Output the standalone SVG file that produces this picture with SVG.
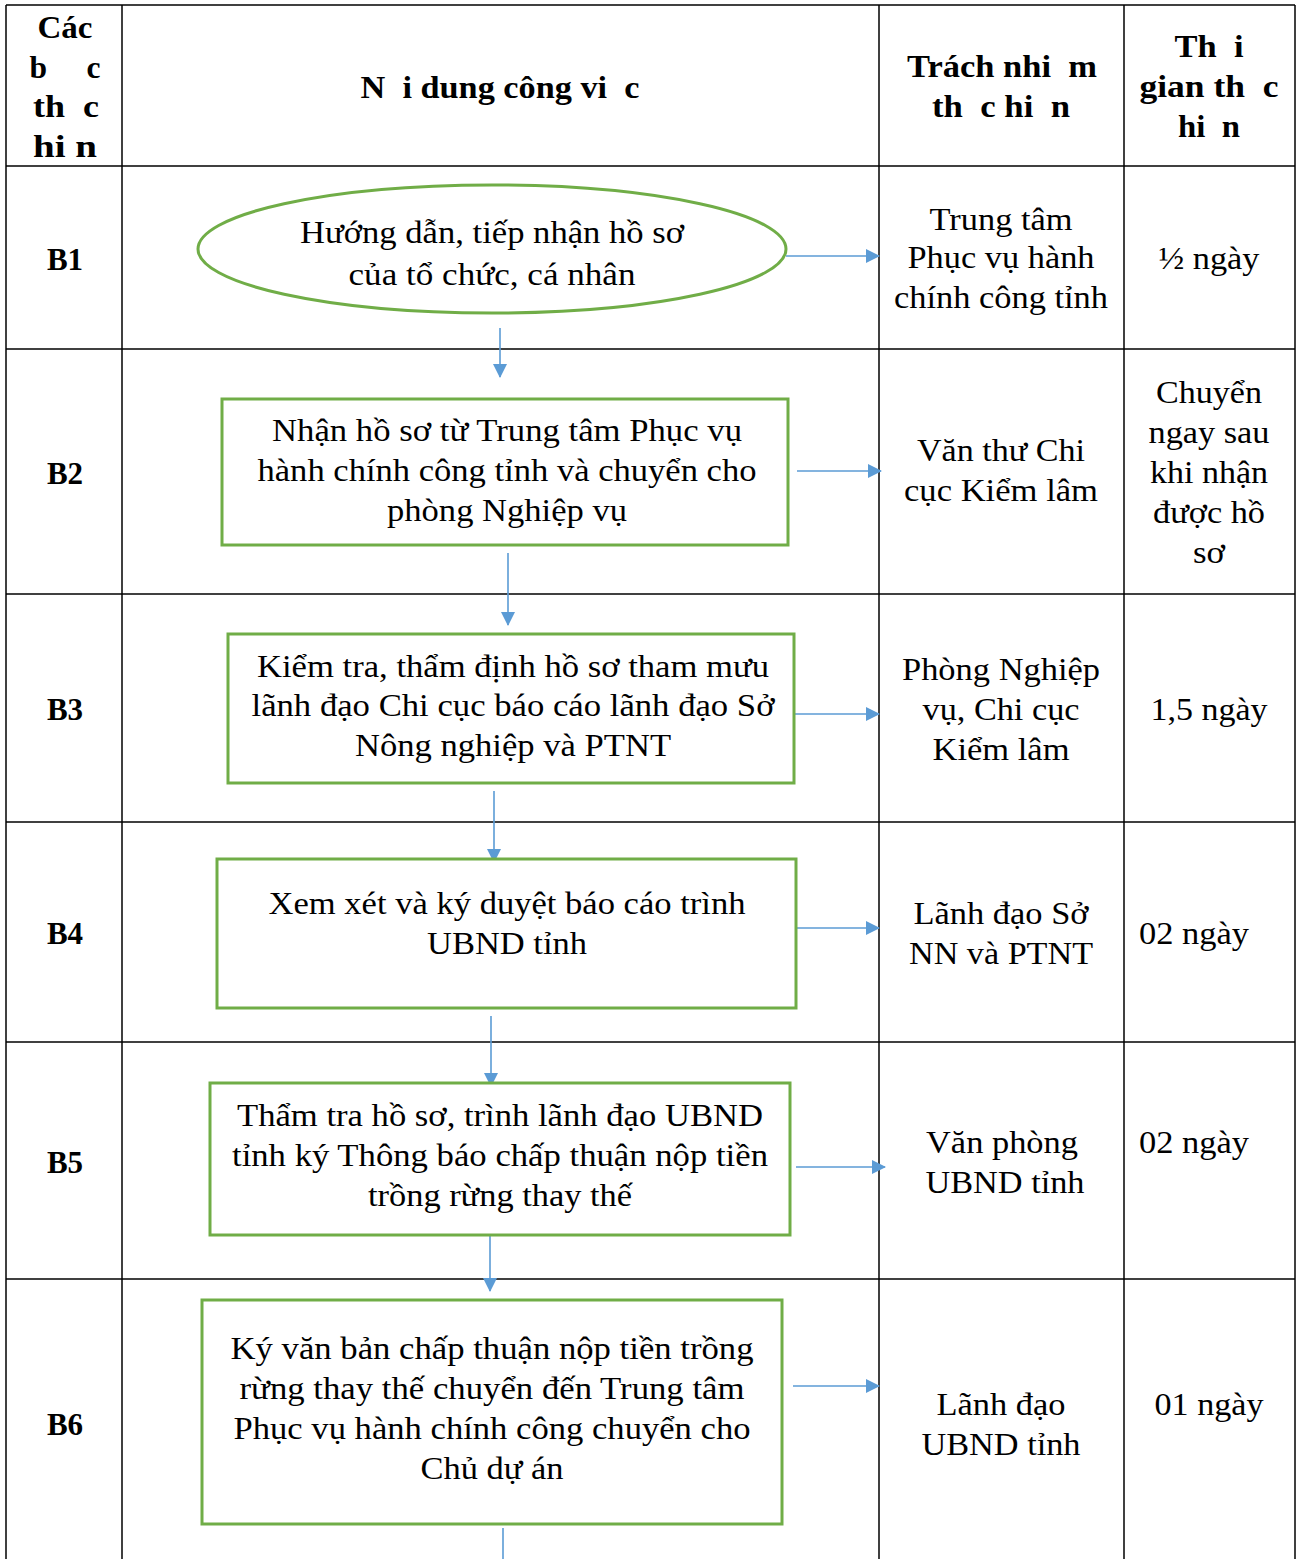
<svg xmlns="http://www.w3.org/2000/svg" width="1302" height="1559" viewBox="0 0 1302 1559">
<style>
  .grid { stroke: #000; stroke-width: 1.5; fill: none; }
  .hd { font-family: "Liberation Serif", "Times New Roman", serif; font-weight: bold; font-size: 31px; fill: #000; text-anchor: middle; white-space: pre; }
  .t { font-family: "Liberation Serif", "Times New Roman", serif; font-size: 32px; fill: #000; text-anchor: middle; white-space: pre; }
  .node { fill: #fff; stroke: #70AD47; stroke-width: 3; }
  .conn { stroke: #5B9BD5; stroke-width: 1.6; fill: none; marker-end: url(#ah); }
  .connp { stroke: #5B9BD5; stroke-width: 1.6; fill: none; }
</style>
<defs>
  <marker id="ah" markerUnits="userSpaceOnUse" markerWidth="14" markerHeight="14" refX="13" refY="7" orient="auto">
    <path d="M0,0 L14,7 L0,14 z" fill="#5B9BD5"/>
  </marker>
</defs>
<rect width="1302" height="1559" fill="#fff"/>

<g id="table">
  <line class="grid" x1="6" y1="5" x2="1295" y2="5"/>
  <line class="grid" x1="6" y1="166" x2="1295" y2="166"/>
  <line class="grid" x1="6" y1="349" x2="1295" y2="349"/>
  <line class="grid" x1="6" y1="594" x2="1295" y2="594"/>
  <line class="grid" x1="6" y1="822" x2="1295" y2="822"/>
  <line class="grid" x1="6" y1="1042" x2="1295" y2="1042"/>
  <line class="grid" x1="6" y1="1279" x2="1295" y2="1279"/>
  <line class="grid" x1="6" y1="5" x2="6" y2="1559"/>
  <line class="grid" x1="122" y1="5" x2="122" y2="1559"/>
  <line class="grid" x1="879" y1="5" x2="879" y2="1559"/>
  <line class="grid" x1="1124" y1="5" x2="1124" y2="1559"/>
  <line class="grid" x1="1295" y1="5" x2="1295" y2="1559"/>
</g>

<g id="header">
  <text class="hd" x="65" y="38" textLength="55" lengthAdjust="spacingAndGlyphs">Các</text>
  <text class="hd" x="65" y="78" textLength="71" lengthAdjust="spacingAndGlyphs">b     c</text>
  <text class="hd" x="66" y="117" textLength="66" lengthAdjust="spacingAndGlyphs">th  c</text>
  <text class="hd" x="65" y="157" textLength="64" lengthAdjust="spacingAndGlyphs">hi n</text>
  <text class="hd" x="500" y="98" textLength="279" lengthAdjust="spacingAndGlyphs">N  i dung công vi  c</text>
  <text class="hd" x="1002" y="77" textLength="190" lengthAdjust="spacingAndGlyphs">Trách nhi  m</text>
  <text class="hd" x="1001" y="117" textLength="138" lengthAdjust="spacingAndGlyphs">th  c hi  n</text>
  <text class="hd" x="1209" y="57" textLength="69" lengthAdjust="spacingAndGlyphs">Th  i</text>
  <text class="hd" x="1209" y="97" textLength="139" lengthAdjust="spacingAndGlyphs">gian th  c</text>
  <text class="hd" x="1209" y="137" textLength="62" lengthAdjust="spacingAndGlyphs">hi  n</text>
</g>

<g id="steps">
  <text class="hd" x="65" y="270">B1</text>
  <text class="hd" x="65" y="484">B2</text>
  <text class="hd" x="65" y="720">B3</text>
  <text class="hd" x="65" y="944">B4</text>
  <text class="hd" x="65" y="1173">B5</text>
  <text class="hd" x="65" y="1435">B6</text>
</g>

<g id="connectors">
  <line class="conn" x1="786" y1="256" x2="879" y2="256"/>
  <line class="conn" x1="500" y1="328" x2="500" y2="377"/>
  <line class="conn" x1="797" y1="471" x2="881" y2="471"/>
  <line class="conn" x1="508" y1="553" x2="508" y2="625"/>
  <line class="conn" x1="794" y1="714" x2="879" y2="714"/>
  <line class="conn" x1="494" y1="791" x2="494" y2="862"/>
  <line class="conn" x1="796" y1="928" x2="879" y2="928"/>
  <line class="conn" x1="491" y1="1016" x2="491" y2="1086"/>
  <line class="conn" x1="796" y1="1167" x2="885" y2="1167"/>
  <line class="conn" x1="490" y1="1236" x2="490" y2="1291"/>
  <line class="conn" x1="793" y1="1386" x2="879" y2="1386"/>
  <line class="connp" x1="503" y1="1528" x2="503" y2="1559"/>
</g>

<g id="n1">
  <ellipse class="node" cx="492" cy="249" rx="294" ry="64"/>
  <text class="t" x="492" y="243" textLength="384" lengthAdjust="spacingAndGlyphs">Hướng dẫn, tiếp nhận hồ sơ</text>
  <text class="t" x="492" y="285" textLength="287" lengthAdjust="spacingAndGlyphs">của tổ chức, cá nhân</text>
</g>
<g id="n2">
  <rect class="node" x="222" y="399" width="566" height="146"/>
  <text class="t" x="507" y="441" textLength="470" lengthAdjust="spacingAndGlyphs">Nhận hồ sơ từ Trung tâm Phục vụ</text>
  <text class="t" x="507" y="481" textLength="499" lengthAdjust="spacingAndGlyphs">hành chính công tỉnh và chuyển cho</text>
  <text class="t" x="507" y="521" textLength="240" lengthAdjust="spacingAndGlyphs">phòng Nghiệp vụ</text>
</g>
<g id="n3">
  <rect class="node" x="228" y="634" width="566" height="149"/>
  <text class="t" x="513" y="677" textLength="512" lengthAdjust="spacingAndGlyphs">Kiểm tra, thẩm định hồ sơ tham mưu</text>
  <text class="t" x="513" y="716" textLength="523" lengthAdjust="spacingAndGlyphs">lãnh đạo Chi cục báo cáo lãnh đạo Sở</text>
  <text class="t" x="513" y="756" textLength="316" lengthAdjust="spacingAndGlyphs">Nông nghiệp và PTNT</text>
</g>
<g id="n4">
  <rect class="node" x="217" y="859" width="579" height="149"/>
  <text class="t" x="507" y="914" textLength="477" lengthAdjust="spacingAndGlyphs">Xem xét và ký duyệt báo cáo trình</text>
  <text class="t" x="507" y="954" textLength="160" lengthAdjust="spacingAndGlyphs">UBND tỉnh</text>
</g>
<g id="n5">
  <rect class="node" x="210" y="1083" width="580" height="152"/>
  <text class="t" x="500" y="1126" textLength="526" lengthAdjust="spacingAndGlyphs">Thẩm tra hồ sơ, trình lãnh đạo UBND</text>
  <text class="t" x="500" y="1166" textLength="536" lengthAdjust="spacingAndGlyphs">tỉnh ký Thông báo chấp thuận nộp tiền</text>
  <text class="t" x="500" y="1206" textLength="264" lengthAdjust="spacingAndGlyphs">trồng rừng thay thế</text>
</g>
<g id="n6">
  <rect class="node" x="202" y="1300" width="580" height="224"/>
  <text class="t" x="492" y="1359" textLength="523" lengthAdjust="spacingAndGlyphs">Ký văn bản chấp thuận nộp tiền trồng</text>
  <text class="t" x="492" y="1399" textLength="505" lengthAdjust="spacingAndGlyphs">rừng thay thế chuyển đến Trung tâm</text>
  <text class="t" x="492" y="1439" textLength="517" lengthAdjust="spacingAndGlyphs">Phục vụ hành chính công chuyển cho</text>
  <text class="t" x="492" y="1479" textLength="143" lengthAdjust="spacingAndGlyphs">Chủ dự án</text>
</g>

<g id="responsible">
  <text class="t" x="1001" y="230" textLength="143" lengthAdjust="spacingAndGlyphs">Trung tâm</text>
  <text class="t" x="1001" y="268" textLength="187" lengthAdjust="spacingAndGlyphs">Phục vụ hành</text>
  <text class="t" x="1001" y="308" textLength="214" lengthAdjust="spacingAndGlyphs">chính công tỉnh</text>
  <text class="t" x="1001" y="461" textLength="168" lengthAdjust="spacingAndGlyphs">Văn thư Chi</text>
  <text class="t" x="1001" y="501" textLength="194" lengthAdjust="spacingAndGlyphs">cục Kiểm lâm</text>
  <text class="t" x="1001" y="680" textLength="198" lengthAdjust="spacingAndGlyphs">Phòng Nghiệp</text>
  <text class="t" x="1001" y="720" textLength="157" lengthAdjust="spacingAndGlyphs">vụ, Chi cục</text>
  <text class="t" x="1001" y="760" textLength="137" lengthAdjust="spacingAndGlyphs">Kiểm lâm</text>
  <text class="t" x="1001" y="924" textLength="175" lengthAdjust="spacingAndGlyphs">Lãnh đạo Sở</text>
  <text class="t" x="1001" y="964" textLength="184" lengthAdjust="spacingAndGlyphs">NN và PTNT</text>
  <text class="t" x="1002" y="1153" textLength="152" lengthAdjust="spacingAndGlyphs">Văn phòng</text>
  <text class="t" x="1005" y="1193" textLength="159" lengthAdjust="spacingAndGlyphs">UBND tỉnh</text>
  <text class="t" x="1001" y="1415" textLength="129" lengthAdjust="spacingAndGlyphs">Lãnh đạo</text>
  <text class="t" x="1001" y="1455" textLength="159" lengthAdjust="spacingAndGlyphs">UBND tỉnh</text>
</g>

<g id="time">
  <text class="t" x="1209" y="269" textLength="101" lengthAdjust="spacingAndGlyphs">½ ngày</text>
  <text class="t" x="1209" y="403" textLength="106" lengthAdjust="spacingAndGlyphs">Chuyển</text>
  <text class="t" x="1209" y="443" textLength="121" lengthAdjust="spacingAndGlyphs">ngay sau</text>
  <text class="t" x="1209" y="483" textLength="118" lengthAdjust="spacingAndGlyphs">khi nhận</text>
  <text class="t" x="1209" y="523" textLength="112" lengthAdjust="spacingAndGlyphs">được hồ</text>
  <text class="t" x="1209" y="563" textLength="32" lengthAdjust="spacingAndGlyphs">sơ</text>
  <text class="t" x="1209" y="720" textLength="117" lengthAdjust="spacingAndGlyphs">1,5 ngày</text>
  <text class="t" x="1194" y="944" textLength="110" lengthAdjust="spacingAndGlyphs">02 ngày</text>
  <text class="t" x="1194" y="1153" textLength="110" lengthAdjust="spacingAndGlyphs">02 ngày</text>
  <text class="t" x="1209" y="1415" textLength="109" lengthAdjust="spacingAndGlyphs">01 ngày</text>
</g>
</svg>
